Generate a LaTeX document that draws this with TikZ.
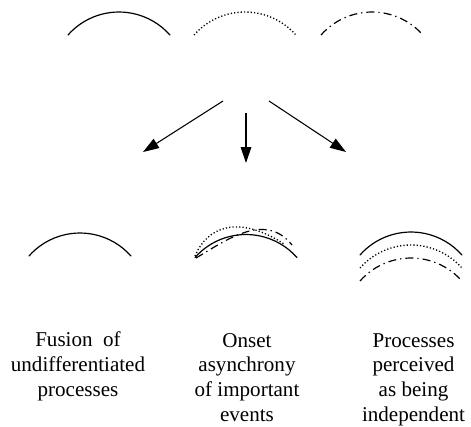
\documentclass[tikz,border=0pt]{standalone}
\usepackage{fontspec}
\setmainfont{Liberation Serif}
\usetikzlibrary{arrows.meta}

\begin{document}
\begin{tikzpicture}[x=0.75pt, y=0.75pt,
  solidline/.style={line width=0.9pt, line cap=round},
  dotline/.style={line width=1pt, dash pattern=on 0.9pt off 1.6pt},
  dashdotline/.style={line width=0.9pt, dash pattern=on 6pt off 3pt on 1pt off 3pt},
  arrowline/.style={line width=0.8pt, -{Triangle[length=12pt, width=8pt]}},
  caption/.style={align=center, anchor=base, inner sep=0pt,
    font=\fontsize{15.8}{18.4}\selectfont},
  hump/.pic={\draw[pic actions] (0,0) arc[start angle=138.55, end angle=41.45, radius=68];}
]
\useasboundingbox (0,0) rectangle (471,426);

% top row: the three separate processes
\pic[solidline]   at (68,391)  {hump};
\pic[dotline]     at (194,391) {hump};
\pic[dashdotline] at (321,391) {hump};

% branching arrows
\coordinate (srcL) at (223,325);
\coordinate (srcM) at (246,313);
\coordinate (srcR) at (269,325);
\coordinate (dstL) at (143,274);
\coordinate (dstM) at (246,263);
\coordinate (dstR) at (346,274);
\draw[arrowline] (srcL) -- (dstL);
\draw[arrowline] (srcM) -- (dstM);
\draw[arrowline] (srcR) -- (dstR);

% outcome 1: fused
\pic[solidline] at (29,170) {hump};

% outcome 2: onsets shifted
\pic[solidline] at (195,168.5) {hump};
\draw[dotline] (195,170) .. controls (207,199) and (238,212) .. (284,182);
\draw[dashdotline] (196,168) .. controls (225,185) and (265,215) .. (292,181);

% outcome 3: independent streams
\pic[solidline]   at (360,171) {hump};
\pic[dotline]     at (360,158) {hump};
\pic[dashdotline] at (360,145) {hump};

% captions (anchored on the baseline of their last line)
\node[caption] (capL) at (78,30)   {Fusion\ \ of\\undifferentiated\\processes};
\node[caption] (capM) at (247,5)   {Onset\\asynchrony\\of important\\events};
\node[caption] (capR) at (413.5,5) {Processes\\perceived\\as being\\independent};
\end{tikzpicture}
\end{document}
